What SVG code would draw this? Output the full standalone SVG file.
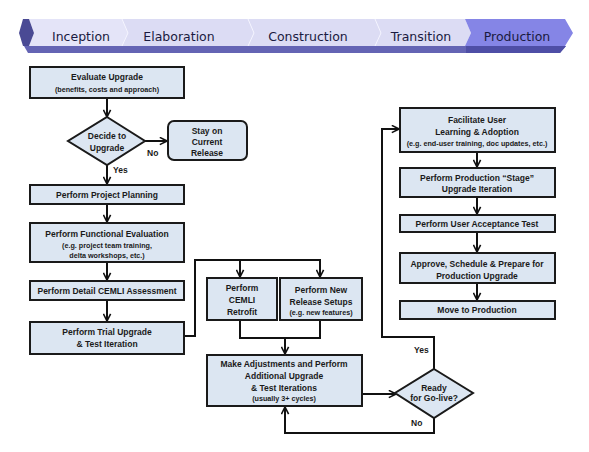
<svg xmlns="http://www.w3.org/2000/svg" width="589" height="452" viewBox="0 0 589 452">
<defs>
<marker id="arr" markerUnits="userSpaceOnUse" viewBox="0 0 10 10" refX="9" refY="5" markerWidth="9" markerHeight="9" orient="auto">
<path d="M1,1 L9,5 L1,9" fill="none" stroke="#111" stroke-width="1.8"/>
</marker>
</defs>
<style>
.box{fill:#dce6f2;stroke:#1a1a1a;stroke-width:2}
.t{font-family:"Liberation Sans",Arial,sans-serif;font-weight:bold;font-size:8.5px;fill:#1a1a1a;text-anchor:middle}
.s{font-family:"Liberation Sans",Arial,sans-serif;font-weight:bold;font-size:7.2px;fill:#1a1a1a;text-anchor:middle}
.lbl{font-family:"Liberation Sans",Arial,sans-serif;font-weight:bold;font-size:8.5px;fill:#1a1a1a}
.c{fill:none;stroke:#111;stroke-width:2}
.ph{font-family:"DejaVu Sans","Liberation Sans",sans-serif;font-size:12.5px;fill:#1a1a40;text-anchor:middle}
.sep{fill:none;stroke:#f4f4ff;stroke-width:1}
</style>
<rect width="589" height="452" fill="#ffffff"/>
<g id="banner">
<polygon points="24,46 566,46 560,53 28,53" fill="#6464b4"/>
<polygon points="466,46 566,46 560,53 466,53" fill="#4e4ea6"/>
<polygon points="29,19 122,19 128,33 122,46 29,46 34,33" fill="#e4e4f8"/>
<polygon points="122,19 248,19 254,33 248,46 122,46 128,33" fill="#dcdcf4"/>
<polygon points="248,19 375,19 381,33 375,46 248,46 254,33" fill="#dcdcf4"/>
<polygon points="375,19 465,19 471,33 465,46 375,46 381,33" fill="#dcdcf4"/>
<polygon points="465,19 565,19 573,33 565,46 465,46 471,33" fill="#8585e6"/>
<polyline class="sep" points="122,19 128,33 122,46"/>
<polyline class="sep" points="248,19 254,33 248,46"/>
<polyline class="sep" points="375,19 381,33 375,46"/>
<polygon points="23,19 29,19 34,33 29,46 23,46 19,33" fill="#4a4a94"/>
<text class="ph" x="81" y="41">Inception</text>
<text class="ph" x="179" y="41">Elaboration</text>
<text class="ph" x="308" y="41">Construction</text>
<text class="ph" x="421" y="41">Transition</text>
<text class="ph" x="517" y="41">Production</text>
</g>
<g id="connectors">
<line class="c" x1="107" y1="98" x2="107" y2="117" marker-end="url(#arr)"/>
<line class="c" x1="145" y1="141" x2="167" y2="141" marker-end="url(#arr)"/>
<line class="c" x1="107" y1="165" x2="107" y2="184" marker-end="url(#arr)"/>
<line class="c" x1="107" y1="204" x2="107" y2="222" marker-end="url(#arr)"/>
<line class="c" x1="107" y1="262" x2="107" y2="280" marker-end="url(#arr)"/>
<line class="c" x1="107" y1="300" x2="107" y2="321" marker-end="url(#arr)"/>
<polyline class="c" points="184,336 195,336 195,260 320,260 320,277" marker-end="url(#arr)"/>
<line class="c" x1="240" y1="260" x2="240" y2="277" marker-end="url(#arr)"/>
<polyline class="c" points="240,320 240,338 320,338 320,320"/>
<line class="c" x1="285" y1="338" x2="285" y2="354" marker-end="url(#arr)"/>
<line class="c" x1="362" y1="394" x2="396" y2="394" marker-end="url(#arr)"/>
<polyline class="c" points="434,369 434,337 382,337 382,129 399,129" marker-end="url(#arr)"/>
<polyline class="c" points="434,418 434,433 285,433 285,407" marker-end="url(#arr)"/>
<line class="c" x1="477" y1="152" x2="477" y2="167" marker-end="url(#arr)"/>
<line class="c" x1="477" y1="197" x2="477" y2="214" marker-end="url(#arr)"/>
<line class="c" x1="477" y1="232" x2="477" y2="252" marker-end="url(#arr)"/>
<line class="c" x1="477" y1="283" x2="477" y2="300" marker-end="url(#arr)"/>
<text class="lbl" x="147" y="156">No</text>
<text class="lbl" x="113" y="173">Yes</text>
<text class="lbl" x="414" y="353">Yes</text>
<text class="lbl" x="411" y="426">No</text>
</g>
<g id="evaluate">
<rect class="box" x="30" y="67" width="154" height="31"/>
<text class="t" x="107" y="80">Evaluate Upgrade</text>
<text class="s" x="107" y="92">(benefits, costs and approach)</text>
</g>
<g id="decide">
<polygon class="box" points="107,117 145,141 107,165 68,141"/>
<text class="t" x="107" y="139">Decide to</text>
<text class="t" x="107" y="151">Upgrade</text>
</g>
<g id="stay">
<rect class="box" x="168" y="121" width="79" height="39" rx="6"/>
<text class="t" x="207" y="134">Stay on</text>
<text class="t" x="207" y="145">Current</text>
<text class="t" x="207" y="156">Release</text>
</g>
<g id="planning">
<rect class="box" x="30" y="185" width="154" height="19"/>
<text class="t" x="107" y="198">Perform Project Planning</text>
</g>
<g id="functional">
<rect class="box" x="30" y="223" width="154" height="39"/>
<text class="t" x="107" y="237">Perform Functional Evaluation</text>
<text class="s" x="107" y="248">(e.g. project team training,</text>
<text class="s" x="107" y="258">delta workshops, etc.)</text>
</g>
<g id="cemli-assess">
<rect class="box" x="30" y="281" width="154" height="19"/>
<text class="t" x="107" y="294">Perform Detail CEMLI Assessment</text>
</g>
<g id="trial">
<rect class="box" x="30" y="322" width="154" height="32"/>
<text class="t" x="107" y="335">Perform Trial Upgrade</text>
<text class="t" x="107" y="347">&amp; Test Iteration</text>
</g>
<g id="retrofit">
<rect class="box" x="207" y="278" width="70" height="42"/>
<text class="t" x="242" y="291">Perform</text>
<text class="t" x="242" y="303">CEMLI</text>
<text class="t" x="242" y="315">Retrofit</text>
</g>
<g id="setups">
<rect class="box" x="280" y="278" width="82" height="42"/>
<text class="t" x="321" y="293">Perform New</text>
<text class="t" x="321" y="305">Release Setups</text>
<text class="s" x="321" y="315">(e.g. new features)</text>
</g>
<g id="adjust">
<rect class="box" x="207" y="355" width="155" height="51"/>
<text class="t" x="284" y="367">Make Adjustments and Perform</text>
<text class="t" x="284" y="379">Additional Upgrade</text>
<text class="t" x="284" y="391">&amp; Test Iterations</text>
<text class="s" x="284" y="401">(usually 3+ cycles)</text>
</g>
<g id="ready">
<polygon class="box" points="434,369 473,393 434,418 395,393"/>
<text class="t" x="434" y="391">Ready</text>
<text class="t" x="434" y="401">for Go-live?</text>
</g>
<g id="facilitate">
<rect class="box" x="400" y="108" width="155" height="44"/>
<text class="t" x="477" y="123">Facilitate User</text>
<text class="t" x="477" y="135">Learning &amp; Adoption</text>
<text class="s" x="477" y="146">(e.g. end-user  training, doc updates, etc.)</text>
</g>
<g id="stage">
<rect class="box" x="400" y="168" width="155" height="29"/>
<text class="t" x="477" y="181">Perform Production “Stage”</text>
<text class="t" x="477" y="192">Upgrade Iteration</text>
</g>
<g id="uat">
<rect class="box" x="400" y="215" width="155" height="17"/>
<text class="t" x="477" y="227">Perform User Acceptance Test</text>
</g>
<g id="approve">
<rect class="box" x="400" y="253" width="155" height="30"/>
<text class="t" x="477" y="267">Approve, Schedule &amp; Prepare for</text>
<text class="t" x="477" y="279">Production Upgrade</text>
</g>
<g id="move">
<rect class="box" x="400" y="301" width="155" height="18"/>
<text class="t" x="477" y="313">Move to Production</text>
</g>
</svg>
